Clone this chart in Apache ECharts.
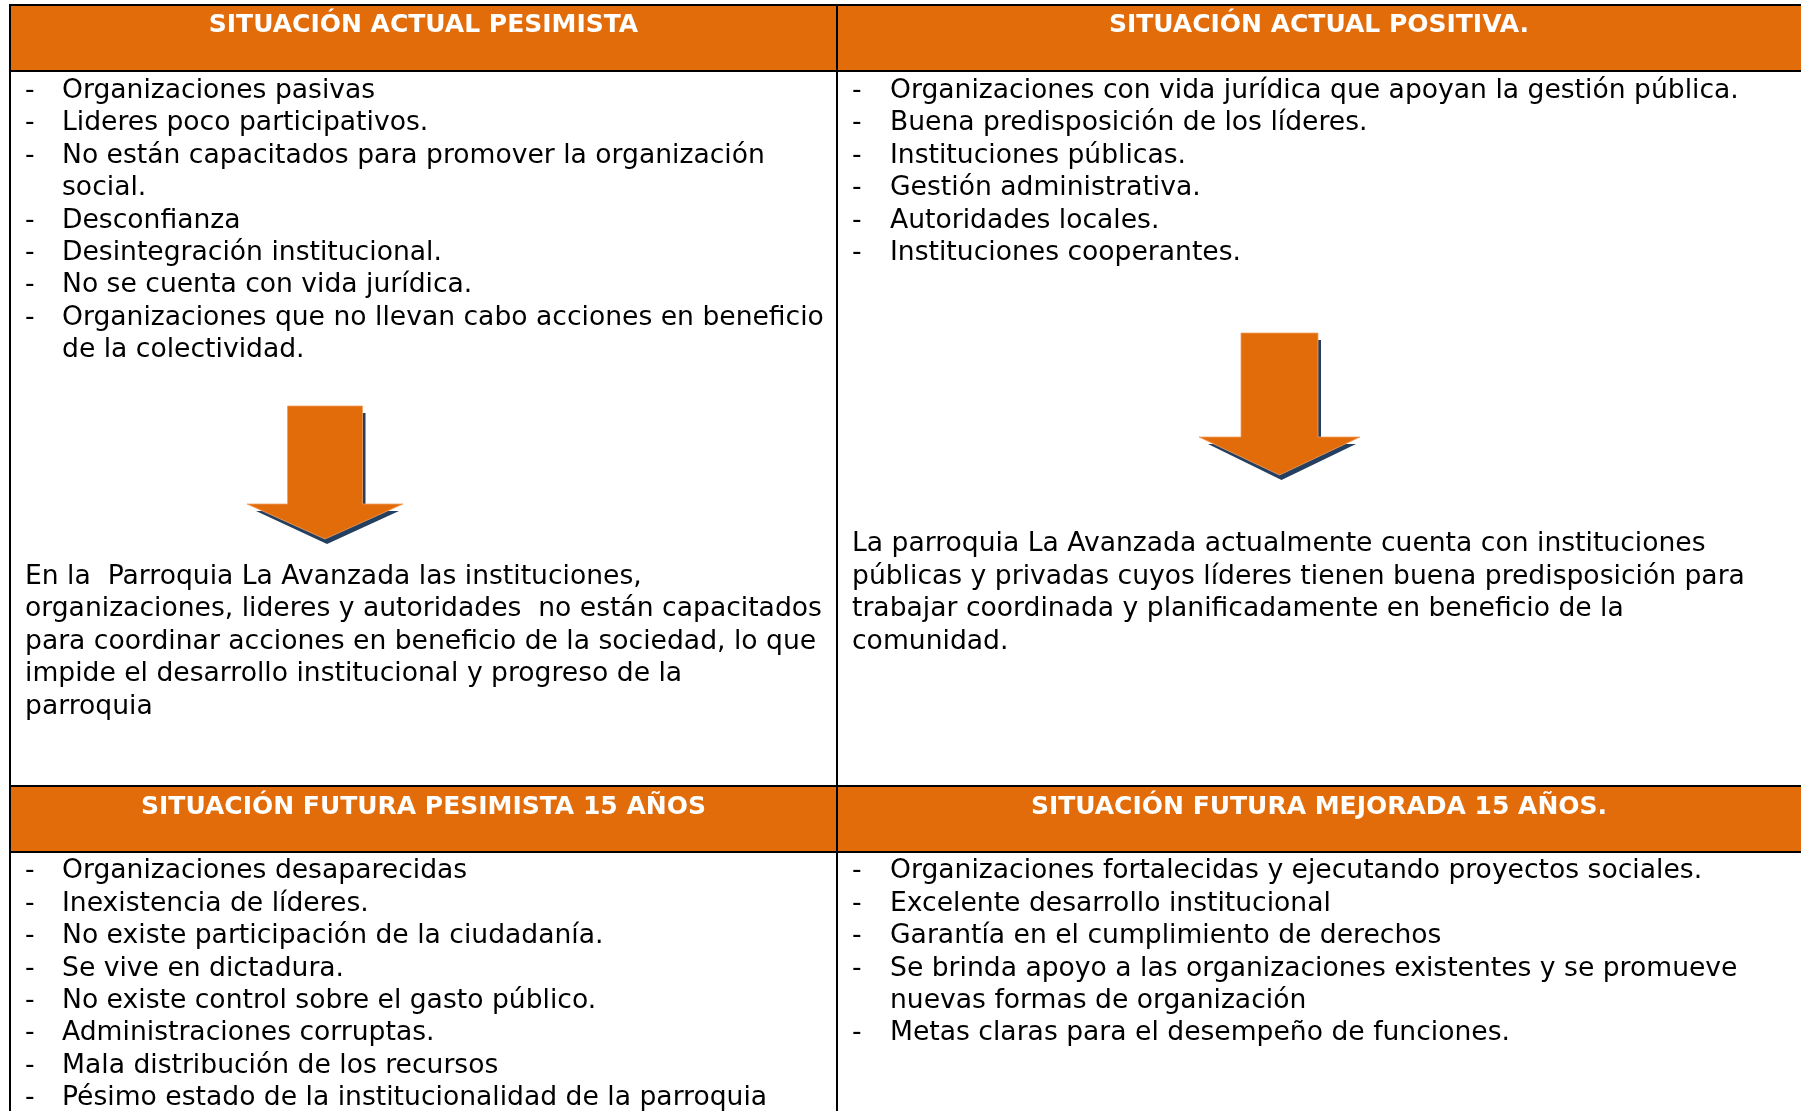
<!DOCTYPE html>
<html>
<head>
<meta charset="utf-8">
<script src="https://cdn.jsdelivr.net/npm/echarts@6/dist/echarts.min.js"></script>
<style>
html,body{margin:0;padding:0;background:#fff;}
#c{width:1801px;height:1111px;}
</style>
</head>
<body>
<div id="c"></div>
<script>
// ---- content ----
var headers = [
  "SITUACIÓN ACTUAL PESIMISTA",
  "SITUACIÓN ACTUAL POSITIVA.",
  "SITUACIÓN FUTURA PESIMISTA 15 AÑOS",
  "SITUACIÓN FUTURA MEJORADA 15 AÑOS."
];
var actualPesimista = [
  ["Organizaciones pasivas"],
  ["Lideres poco participativos."],
  ["No están capacitados para promover la organización", "social."],
  ["Desconfianza"],
  ["Desintegración institucional."],
  ["No se cuenta con vida jurídica."],
  ["Organizaciones que no llevan cabo acciones en beneficio", "de la colectividad."]
];
var actualPositiva = [
  ["Organizaciones con vida jurídica que apoyan la gestión pública."],
  ["Buena predisposición de los líderes."],
  ["Instituciones públicas."],
  ["Gestión administrativa."],
  ["Autoridades locales."],
  ["Instituciones cooperantes."]
];
var parrafoPesimista = [
  "En la  Parroquia La Avanzada las instituciones,",
  "organizaciones, lideres y autoridades  no están capacitados",
  "para coordinar acciones en beneficio de la sociedad, lo que",
  "impide el desarrollo institucional y progreso de la",
  "parroquia"
];
var parrafoPositivo = [
  "La parroquia La Avanzada actualmente cuenta con instituciones",
  "públicas y privadas cuyos líderes tienen buena predisposición para",
  "trabajar coordinada y planificadamente en beneficio de la",
  "comunidad."
];
var futuraPesimista = [
  ["Organizaciones desaparecidas"],
  ["Inexistencia de líderes."],
  ["No existe participación de la ciudadanía."],
  ["Se vive en dictadura."],
  ["No existe control sobre el gasto público."],
  ["Administraciones corruptas."],
  ["Mala distribución de los recursos"],
  ["Pésimo estado de la institucionalidad de la parroquia"]
];
var futuraMejorada = [
  ["Organizaciones fortalecidas y ejecutando proyectos sociales."],
  ["Excelente desarrollo institucional"],
  ["Garantía en el cumplimiento de derechos"],
  ["Se brinda apoyo a las organizaciones existentes y se promueve", "nuevas formas de organización"],
  ["Metas claras para el desempeño de funciones."]
];

// ---- layout ----
var L = 10, M = 837, R = 1803;
var H1T = 5, H1B = 71, H2T = 786, H2B = 852;
var LH = 32.4;
var FONT = '"DejaVu Sans", Verdana, sans-serif';
var FS = 26.6;
var ORANGE = '#E36C0A', SHADOW = '#243F60';

var els = [];
function rect(x, y, w, h, fill) {
  els.push({type:'rect', shape:{x:x, y:y, width:w, height:h}, style:{fill:fill}, silent:true});
}
function line(x1, y1, x2, y2) {
  els.push({type:'line', shape:{x1:x1, y1:y1, x2:x2, y2:y2}, style:{stroke:'#000', lineWidth:2}, silent:true, z:10});
}
function text(x, y, s, opts) {
  opts = opts || {};
  els.push({type:'text', x:x, y:y, silent:true, z:5, style:{
    text:s, fill:opts.fill || '#000', font: opts.font || (FS + 'px ' + FONT),
    textAlign: opts.align || 'left', textVerticalAlign:'middle'
  }});
}
function list(items, dashX, textX, y0) {
  var row = 0;
  items.forEach(function (it) {
    text(dashX, y0 + row * LH, '-');
    it.forEach(function (ln) { text(textX, y0 + row * LH, ln); row++; });
  });
}
function para(lines, x, y0) {
  lines.forEach(function (ln, i) { text(x, y0 + i * LH, ln); });
}
function arrow(cx, top, base, tip, hw, hh) {
  els.push({type:'polygon', silent:true, z:3, shape:{points:[
    [cx - hw + 4, top + 7], [cx + hw + 3, top + 7], [cx + hw + 3, base + 7],
    [cx + hh - 4, base + 7], [cx + 2, tip + 5], [cx - hh + 9, base + 7], [cx - hw + 4, base + 7]
  ]}, style:{fill:SHADOW}});
  els.push({type:'polygon', silent:true, z:4, shape:{points:[
    [cx - hw, top], [cx + hw, top], [cx + hw, base], [cx + hh, base],
    [cx, tip], [cx - hh, base], [cx - hw, base]
  ]}, style:{fill:ORANGE, stroke:'#F0A060', lineWidth:0.8}});
}

// header bands
rect(L, H1T, R - L, H1B - H1T, ORANGE);
rect(L, H2T, R - L, H2B - H2T, ORANGE);
// borders
line(L - 1, H1T, R, H1T);
line(L - 1, H1B, R, H1B);
line(L - 1, H2T, R, H2T);
line(L - 1, H2B, R, H2B);
line(L, H1T - 1, L, 1115);
line(M, H1T - 1, M, 1115);

// headers
var HF = 'bold 25px ' + FONT;
text((L + M) / 2, 25.5, headers[0], {fill:'#fff', align:'center', font:HF});
text((M + 1801) / 2, 25.5, headers[1], {fill:'#fff', align:'center', font:HF});
text((L + M) / 2, H2T + 21, headers[2], {fill:'#fff', align:'center', font:HF});
text((M + 1801) / 2, H2T + 21, headers[3], {fill:'#fff', align:'center', font:HF});

// lists
list(actualPesimista, 25, 62, 91);
list(actualPositiva, 852, 890, 91);
list(futuraPesimista, 25, 62, 871.5);
list(futuraMejorada, 852, 890, 871.5);

// paragraphs
para(parrafoPesimista, 25, 577);
para(parrafoPositivo, 852, 544.5);

// arrows
arrow(325, 406, 504, 539, 37.5, 78);
arrow(1279.5, 333, 437, 475, 38.5, 80.5);

var chart = echarts.init(document.getElementById('c'), null, {renderer:'canvas'});
chart.setOption({backgroundColor:'#fff', animation:false, graphic:{elements:els}});
</script>
</body>
</html>
